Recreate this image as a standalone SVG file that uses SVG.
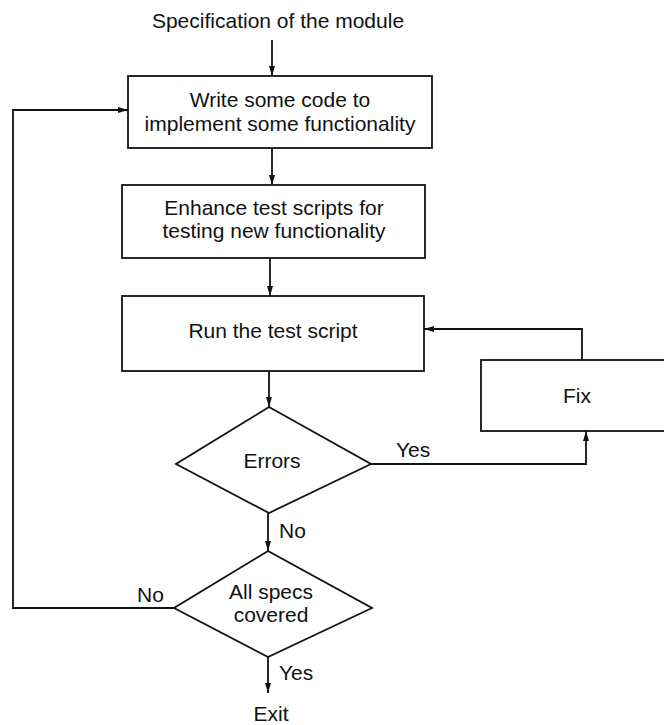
<svg xmlns="http://www.w3.org/2000/svg" width="664" height="725" viewBox="0 0 664 725">
  <style>
    .box { fill: #fff; stroke: #111; stroke-width: 1.8; }
    .line { fill: none; stroke: #111; stroke-width: 1.8; }
    text { font-family: "Liberation Sans", Arial, sans-serif; font-size: 21px; fill: #111; }
    .c { text-anchor: middle; }
  </style>
  <defs>
    <marker id="arrow" viewBox="0 0 10 6" refX="10" refY="3" markerWidth="10" markerHeight="6" markerUnits="userSpaceOnUse" orient="auto">
      <path d="M0,0 L10,3 L0,6 Z" fill="#111"/>
    </marker>
  </defs>

  <rect width="664" height="725" fill="#fff"/>

  <!-- start label -->
  <text id="start" class="c" x="278" y="28">Specification of the module</text>

  <g id="write-code">
    <rect class="box" x="128" y="76" width="304" height="72"/>
    <text class="c" x="280" y="107">Write some code to</text>
    <text class="c" x="280" y="131">implement some functionality</text>
  </g>

  <g id="enhance-tests">
    <rect class="box" x="122" y="185" width="303" height="73"/>
    <text class="c" x="274" y="215">Enhance test scripts for</text>
    <text class="c" x="274" y="238">testing new functionality</text>
  </g>

  <g id="run-tests">
    <rect class="box" x="122" y="296" width="302" height="75"/>
    <text class="c" x="273" y="338">Run the test script</text>
  </g>

  <g id="fix">
    <rect class="box" x="481" y="360" width="200" height="71"/>
    <text class="c" x="577" y="403">Fix</text>
  </g>

  <g id="errors">
    <polygon class="box" points="269,407 371,464 269,513 176,464"/>
    <text class="c" x="272" y="468">Errors</text>
  </g>

  <g id="all-specs">
    <polygon class="box" points="268,551 372,608 268,657 174,608"/>
    <text class="c" x="271" y="599">All specs</text>
    <text class="c" x="271" y="622">covered</text>
  </g>

  <!-- exit label -->
  <text id="exit" class="c" x="271" y="721">Exit</text>

  <g id="connectors">
    <line class="line" x1="272" y1="40" x2="272" y2="76" marker-end="url(#arrow)"/>
    <line class="line" x1="272" y1="148" x2="272" y2="185" marker-end="url(#arrow)"/>
    <line class="line" x1="270" y1="258" x2="270" y2="296" marker-end="url(#arrow)"/>
    <line class="line" x1="269" y1="371" x2="269" y2="407" marker-end="url(#arrow)"/>
    <line class="line" x1="268" y1="513" x2="268" y2="551" marker-end="url(#arrow)"/>
    <line class="line" x1="268" y1="657" x2="268" y2="693" marker-end="url(#arrow)"/>
    <!-- Errors: Yes branch to Fix -->
    <polyline class="line" points="371,464 586,464 586,431" marker-end="url(#arrow)"/>
    <!-- Fix back to Run the test script -->
    <polyline class="line" points="582,360 582,329 424,329" marker-end="url(#arrow)"/>
    <!-- All specs: No branch back to Write some code -->
    <polyline class="line" points="174,608 13,608 13,110 128,110" marker-end="url(#arrow)"/>
  </g>

  <g id="labels">
    <text x="396" y="457">Yes</text>
    <text x="279" y="538">No</text>
    <text x="137" y="602">No</text>
    <text x="279" y="680">Yes</text>
  </g>
</svg>
